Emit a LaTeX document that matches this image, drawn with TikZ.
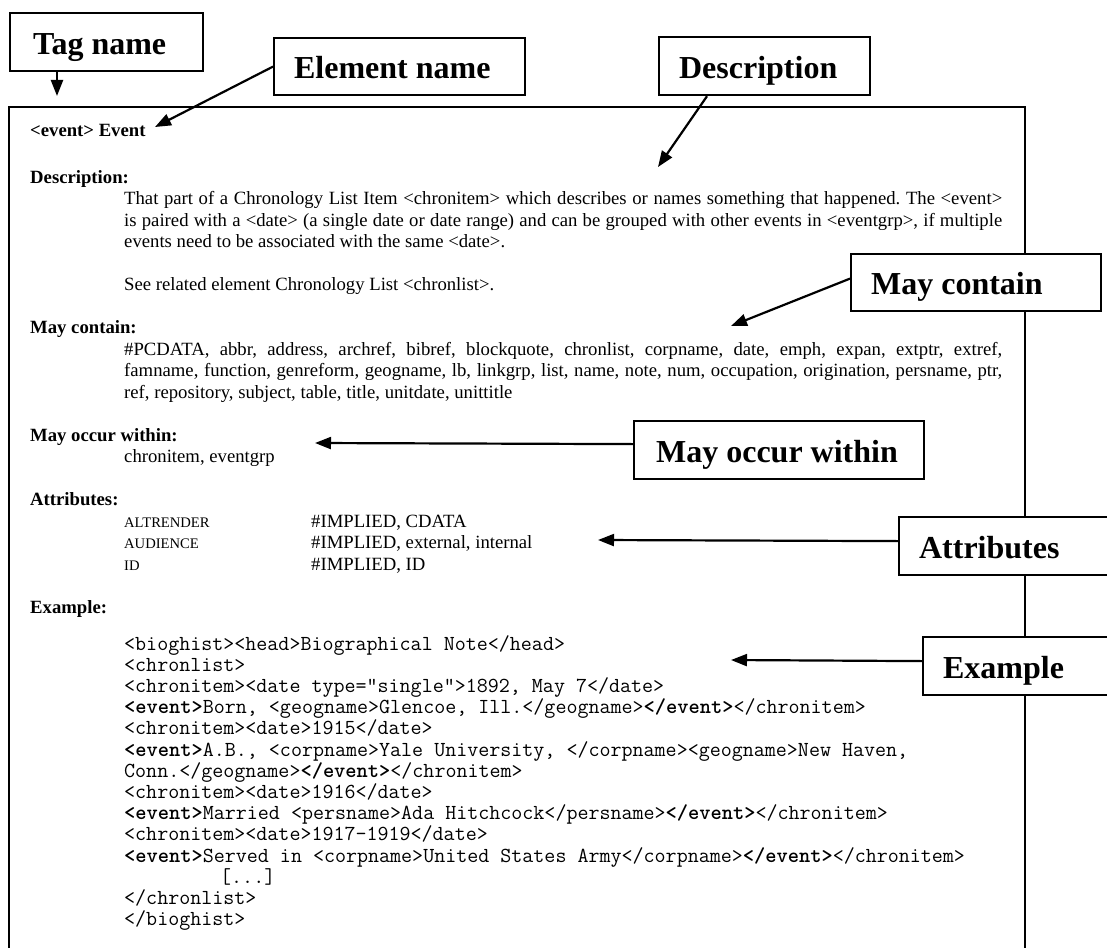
\documentclass[tikz,border=0pt]{standalone}
\usepackage{fontspec}
\setmainfont{Liberation Serif}
\usetikzlibrary{arrows.meta}
\frenchspacing
\newcommand\dBody{\fontsize{18.7}{21.5}\selectfont}
\newcommand\dHead{\fontsize{18.7}{21.5}\selectfont\bfseries}
\newcommand\dCall{\fontsize{32}{36}\selectfont\bfseries}
\newcommand\dAttr{\fontsize{14.6}{17}\selectfont}
\newcommand\dCode{\ttfamily\fontsize{21.4}{21.2}\selectfont}
\newcommand\jline[1]{\makebox[878pt][s]{#1}}
\newcommand\cbox[2]{\makebox[#1pt][l]{#2}}
\tikzset{
  callout/.style={draw, line width=2.2pt, fill=white, font=\dCall, anchor=north west,
    inner ysep=0pt, inner xsep=20pt, text height=41pt, text depth=17pt},
  arr/.style={-{Triangle[length=16pt,width=12pt]}, line width=2.2pt},
  txt/.style={anchor=base west, inner sep=0pt, font=\dBody},
  head/.style={anchor=base west, inner sep=0pt, font=\dHead},
  attr/.style={anchor=base west, inner sep=0pt, font=\dAttr},
  code/.style={anchor=base west, inner sep=0pt, font=\dCode},
  frame/.style={line width=2.2pt}
}
\begin{document}
\begin{tikzpicture}[x=1pt,y=-1pt]
\useasboundingbox (0,0) rectangle (1107,947);
\fill[white] (0,0) rectangle (1107,947);
\clip (0,0) rectangle (1107,947);
% main frame
\draw[frame] (9,970) -- (9,107) -- (1025,107) -- (1025,970);
% text body
\node[head] (h1) at (30,136) {<event> Event};
\node[head] (h2) at (30,183) {Description:};
\node[txt] (d1) at (124,204.5) {\jline{That part of a Chronology List Item <chronitem> which describes or names something that happened. The <event>}};
\node[txt] (d2) at (124,226) {\jline{is paired with a <date> (a single date or date range) and can be grouped with other events in <eventgrp>, if multiple}};
\node[txt] (d3) at (124,247.5) {events need to be associated with the same <date>.};
\node[txt] (d4) at (124,290.5) {See related element Chronology List <chronlist>.};
\node[head] (h3) at (30,333.5) {May contain:};
\node[txt] (m1) at (124,355) {\jline{\#PCDATA, abbr, address, archref, bibref, blockquote, chronlist, corpname, date, emph, expan, extptr, extref,}};
\node[txt] (m2) at (124,376.5) {\jline{famname, function, genreform, geogname, lb, linkgrp, list, name, note, num, occupation, origination, persname, ptr,}};
\node[txt] (m3) at (124,398) {ref, repository, subject, table, title, unitdate, unittitle};
\node[head] (h4) at (30,441) {May occur within:};
\node[txt] (w1) at (124,462.5) {chronitem, eventgrp};
\node[head] (h5) at (30,505.5) {Attributes:};
\node[attr] (a1) at (124,527) {ALTRENDER};
\node[attr] (a2) at (124,548.5) {AUDIENCE};
\node[attr] (a3) at (124,570) {ID};
\node[txt] (v1) at (311,527) {\#IMPLIED, CDATA};
\node[txt] (v2) at (311,548.5) {\#IMPLIED, external, internal};
\node[txt] (v3) at (311,570) {\#IMPLIED, ID};
\node[head] (h6) at (30,613) {Example:};
% code
\node[code] (c1) at (124,650) {<bioghist><head>Biographical Note</head>};
\node[code] (c2) at (124,671.2) {<chronlist>};
\node[code] (c3) at (124,692.4) {<chronitem><date type="single">1892, May 7</date>};
\node[code] (c4) at (124,713.6) {\textbf{<event>}Born, <geogname>Glencoe, Ill.</geogname>\textbf{</event>}</chronitem>};
\node[code] (c5) at (124,734.8) {<chronitem><date>1915</date>};
\node[code] (c6) at (124,756) {\textbf{<event>}A.B., <corpname>Yale University, </corpname><geogname>New Haven,};
\node[code] (c7) at (124,777.2) {Conn.</geogname>\textbf{</event>}</chronitem>};
\node[code] (c8) at (124,798.4) {<chronitem><date>1916</date>};
\node[code] (c9) at (124,819.6) {\textbf{<event>}Married <persname>Ada Hitchcock</persname>\textbf{</event>}</chronitem>};
\node[code] (c10) at (124,840.8) {<chronitem><date>1917-1919</date>};
\node[code] (c11) at (124,862) {\textbf{<event>}Served in <corpname>United States Army</corpname>\textbf{</event>}</chronitem>};
\node[code] (c12) at (124,883.2) {\hspace*{96pt}[...]};
\node[code] (c13) at (124,904.4) {</chronlist>};
\node[code] (c14) at (124,925.6) {</bioghist>};
% callouts
\node[callout, inner xsep=23pt] (tag) at (9,12) {\cbox{147}{Tag name}};
\node[callout, text height=40pt] (elem) at (273,37) {\cbox{211}{Element name}};
\node[callout] (desc) at (658,36) {\cbox{171}{Description}};
\node[callout, text height=40pt] (mc) at (850,253) {\cbox{210}{May contain}};
\node[callout, inner xsep=22pt] (mo) at (633,420) {\cbox{246}{May occur within}};
\node[callout] (at) at (898,516) {\cbox{200}{Attributes}};
\node[callout] (ex) at (922,636) {\cbox{180}{Example}};
% arrow tips
\coordinate (tagtip) at (57,96);
\coordinate (elemtip) at (155,127);
\coordinate (desctip) at (658,167);
\coordinate (mctip) at (731,326);
\coordinate (motip) at (315,443);
\coordinate (attip) at (598,540);
\coordinate (extip) at (731,660);
% connectors
\draw[arr] ([xshift=48pt]tag.south west) -- (tagtip);
\draw[arr] (elem.west) -- (elemtip);
\draw[arr] ([xshift=49pt]desc.south west) -- (desctip);
\draw[arr] ([yshift=4pt]mc.west) -- (mctip);
\draw[arr] ([yshift=6pt]mo.west) -- (motip);
\draw[arr] ([yshift=5pt]at.west) -- (attip);
\draw[arr] ([yshift=5pt]ex.west) -- (extip);
\end{tikzpicture}
\end{document}
